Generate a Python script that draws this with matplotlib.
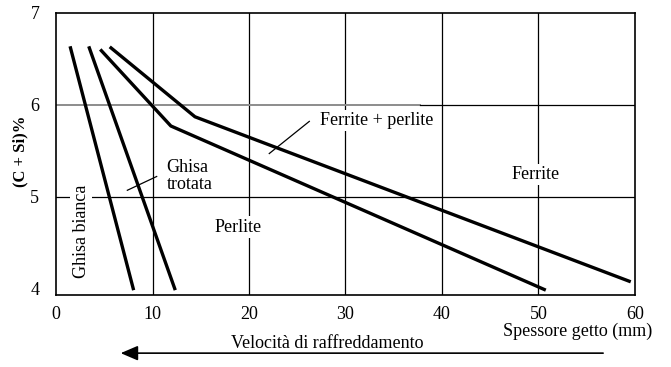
import matplotlib.pyplot as plt

plt.rcParams['font.family'] = ['Liberation Serif', 'DejaVu Serif']

# curve vertices (spessore getto mm, %C+Si)
bianca_x = [1.5, 8.0]
bianca_y = [6.62, 4.0]
trotata_x = [3.45, 12.3]
trotata_y = [6.62, 4.0]
perlite_x = [4.7, 11.9, 50.6]
perlite_y = [6.59, 5.77, 3.99]
ferrite_x = [5.7, 14.4, 59.4]
ferrite_y = [6.62, 5.87, 4.08]

x_ticks = [0, 10, 20, 30, 40, 50, 60]
y_ticks = [4, 5, 6, 7]

fig = plt.figure(figsize=(6.71, 3.67), dpi=100)
ax = fig.add_axes([0.0835, 0.1962, 0.8628, 0.7684])

ax.set_xlim(0, 60)
ax.set_ylim(3.93, 7.0)

# griglia
for xv in x_ticks[1:-1]:
    ax.axvline(xv, color='black', lw=0.9, zorder=1)
ax.axhline(5, color='black', lw=0.9, zorder=1)
ax.axhline(6, xmin=0, xmax=37.7 / 60, color='#8c8c8c', lw=1.4, zorder=1)
ax.axhline(6, xmin=37.7 / 60, xmax=1, color='black', lw=0.9, zorder=1)

bbox = dict(facecolor='white', edgecolor='none', pad=1.5)
fs = 13

ax.text(27.4, 5.83, 'Ferrite + perlite', fontsize=fs, ha='left', va='center', bbox=bbox, zorder=2)
ax.text(49.7, 5.24, 'Ferrite', fontsize=fs, ha='center', va='center', bbox=bbox, zorder=2)
ax.text(18.9, 4.67, 'Perlite', fontsize=fs, ha='center', va='center', bbox=bbox, zorder=2)
ax.text(11.47, 5.22, 'Ghisa\ntrotata', fontsize=fs, ha='left', va='center',
        linespacing=1.0, bbox=bbox, zorder=2)
ax.text(2.6, 4.62, 'Ghisa bianca', fontsize=fs, ha='center', va='center',
        rotation=90, bbox=bbox, zorder=2)

# curve
for xs, ys in [(bianca_x, bianca_y), (trotata_x, trotata_y),
               (perlite_x, perlite_y), (ferrite_x, ferrite_y)]:
    ax.plot(xs, ys, color='black', lw=2.4, solid_joinstyle='round', zorder=3)

# richiami
ax.plot([7.39, 10.43], [5.07, 5.22], color='black', lw=0.9, zorder=3)
ax.plot([22.1, 26.25], [5.47, 5.82], color='black', lw=0.9, zorder=3)

for s in ax.spines.values():
    s.set_linewidth(1.2)
    s.set_zorder(4)

ax.set_xticks(x_ticks)
ax.set_yticks(y_ticks)
ax.tick_params(length=0, labelsize=fs, pad=8)
ax.tick_params(axis='y', pad=12)
fig.text(20 / 671, 1 - 151.7 / 367, '(C + Si)%', fontsize=12, fontweight='bold',
         rotation=90, ha='center', va='center')

ax.text(61.76, 3.53, 'Spessore getto (mm)', fontsize=fs, ha='right', va='center', clip_on=False)
ax.text(28.1, 3.40, 'Velocità di raffreddamento', fontsize=fs, ha='center', va='center', clip_on=False)
ax.annotate('', xy=(6.7, 3.297), xytext=(56.7, 3.297), annotation_clip=False,
            arrowprops=dict(arrowstyle='-|>,head_length=0.7,head_width=0.3',
                            mutation_scale=15, color='black', lw=1.2,
                            shrinkA=0, shrinkB=0))

fig.savefig('out.png', dpi=100)
